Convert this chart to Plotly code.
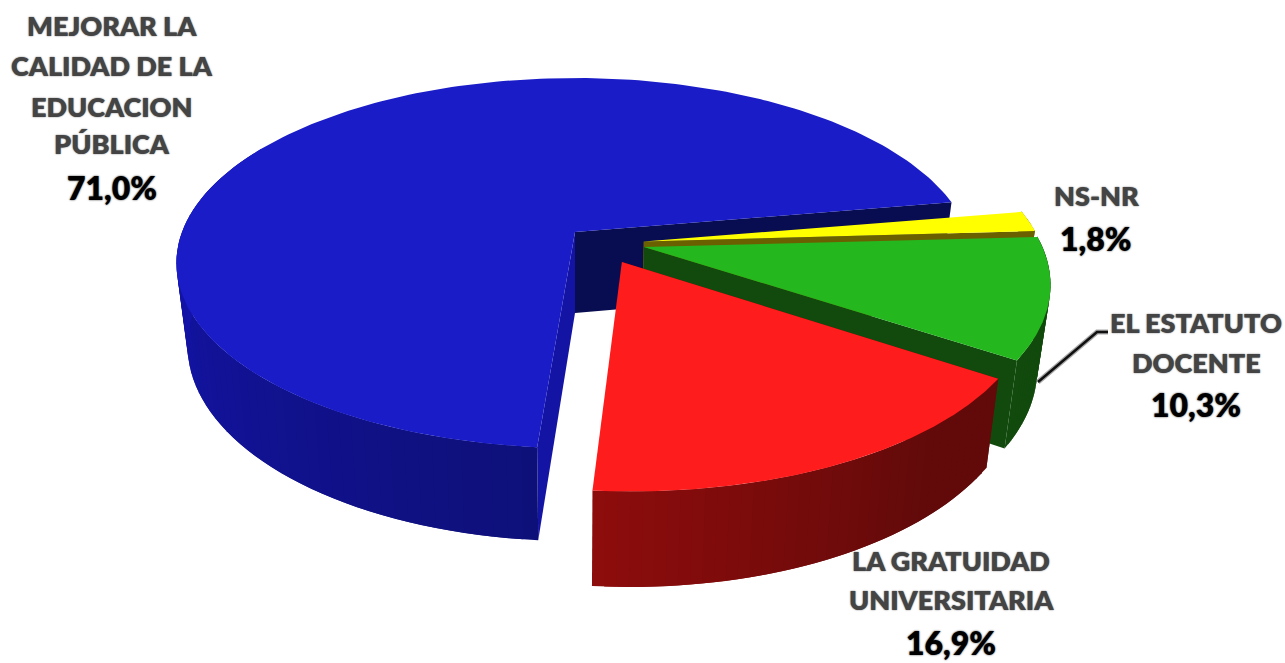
import numpy as np
import plotly.graph_objects as go

# --- data ---
categories = ["MEJORAR LA CALIDAD DE LA EDUCACION PÚBLICA", "NS-NR", "EL ESTATUTO DOCENTE", "LA GRATUIDAD UNIVERSITARIA"]
values = [71.0, 1.8, 10.3, 16.9]
percent_labels = ["71,0%", "1,8%", "10,3%", "16,9%"]
label_lines = [["MEJORAR LA", "CALIDAD DE LA", "EDUCACION", "PÚBLICA"], ["NS-NR"], ["EL ESTATUTO", "DOCENTE"], ["LA GRATUIDAD", "UNIVERSITARIA"]]

# --- style / layout ---
top_colors = ["#1A1CC8", "#FFFF00", "#24B81E", "#FE1C1C"]
start_angle = 184.6
explode_x = [0.0, 0.173, 0.173, 0.116]
explode_y = [0.0, -0.052, -0.082, -0.162]
CX, CY, A, B, K = 575.0, 232.0, 393.0, 179.8, 0.1676
label_x = [112, 1096, 1196, 951]
label_ys = [[25, 65, 106, 143], [195], [322, 362], [560, 599]]
pct_y = [187, 238, 404, 642]
leader_x = [1038, 1097, 1108]
leader_y = [382, 332, 332]
BOTTOM_SCALE = 0.972


def top_pt(i, t):
    r = np.radians(t)
    X = np.sin(r) + explode_x[i]
    Y = np.cos(r) + explode_y[i]
    s = 1 / (1 + K * Y)
    return CX + A * X * s, CY - B * Y * s, s


def center_pt(i):
    Y = explode_y[i]
    s = 1 / (1 + K * Y)
    return CX + A * explode_x[i] * s, CY - B * Y * s, s


def drop(p):
    x, y, s = p
    return CX + (x - CX) * BOTTOM_SCALE, y + 81 + 60 * (s - 1)


fig = go.Figure()


def poly(xs, ys, color):
    fig.add_trace(go.Scatter(x=list(xs), y=list(ys), mode="lines", fill="toself", fillcolor=color,
                             line=dict(color=color, width=0), hoverinfo="skip", showlegend=False))


def mix(c0, c1, f):
    f = min(1, max(0, f))
    return "rgb(%d,%d,%d)" % tuple(round(a + (b - a) * f) for a, b in zip(c0, c1))


def radial_wall(i, t, color):
    c, e = center_pt(i), top_pt(i, t)
    cb, eb = drop(c), drop(e)
    poly([c[0], e[0], eb[0], cb[0]], [c[1], e[1], eb[1], cb[1]], color)


def outer_wall(i, t0, t1, colorfn, n):
    # Each band overlaps the next one by one step, so no seams show.
    ts = np.linspace(t0, t1, n + 2)
    for a, b, c in zip(ts[:-2], ts[1:-1], ts[2:]):
        upper = [top_pt(i, t) for t in (a, b, c)]
        lower = [drop(p) for p in upper]
        xs = [p[0] for p in upper] + [p[0] for p in lower[::-1]]
        ys = [p[1] for p in upper] + [p[1] for p in lower[::-1]]
        poly(xs, ys, colorfn(b % 360))


def top_face(i, t0, t1):
    ts = np.linspace(t0, t1, 200)
    pts = [top_pt(i, t) for t in ts]
    c = center_pt(i)
    poly([c[0]] + [p[0] for p in pts], [c[1]] + [p[1] for p in pts], top_colors[i])


# slice angles (clockwise from the back of the pie), from the values
edges = start_angle + np.cumsum([0] + values) * 3.6

wall_inner = ["#080C50", "#6B6000", "#114A0C", "#6A0A0A"]
wall_start = ["#1414A4", "#6B6000", "#114A0C", "#8A0C0C"]

blue_c = lambda t: mix((14, 16, 120), (20, 20, 172), (t - 184) / 90)
red_c = lambda t: mix((142, 12, 12), (98, 10, 10), (184 - t) / 45)
green_c = lambda t: "#114A0C"
yellow_c = lambda t: "#6B6000"

# Painter order: blue, yellow, green, red
radial_wall(0, edges[1], wall_inner[0])
radial_wall(0, edges[0], wall_start[0])
outer_wall(0, edges[0], 300, blue_c, 60)
top_face(0, edges[0], edges[1])

radial_wall(1, edges[2], wall_inner[1])
outer_wall(1, edges[1], edges[2], yellow_c, 2)
top_face(1, edges[1], edges[2])

radial_wall(2, edges[3], wall_inner[2])
outer_wall(2, edges[2], edges[3], green_c, 30)
top_face(2, edges[2], edges[3])

radial_wall(3, edges[3], wall_inner[3])
outer_wall(3, edges[4], edges[3], red_c, 40)
top_face(3, edges[3], edges[4])

# leader line
fig.add_trace(go.Scatter(x=leader_x, y=leader_y, mode="lines", line=dict(color="#A8A8A8", width=5), hoverinfo="skip", showlegend=False))
fig.add_trace(go.Scatter(x=leader_x, y=leader_y, mode="lines", line=dict(color="#101010", width=2.5), hoverinfo="skip", showlegend=False))

# labels
LABEL_FONT = dict(family="Lato", size=27, color="#444444", weight=800, shadow="0 0 1.5px rgba(40,40,40,0.8)")
PCT_FONT = dict(family="Lato", size=32, color="#000000", weight=800, shadow="0 0 2px rgba(0,0,0,0.8)")
for i in range(4):
    for line, y in zip(label_lines[i], label_ys[i]):
        fig.add_annotation(x=label_x[i], y=y, text=line, showarrow=False, font=LABEL_FONT, xanchor="center", yanchor="middle")
    fig.add_annotation(x=label_x[i], y=pct_y[i], text=percent_labels[i], showarrow=False, font=PCT_FONT, xanchor="center", yanchor="middle")

fig.update_xaxes(range=[0, 1285], visible=False, fixedrange=True)
fig.update_yaxes(range=[663, 0], visible=False, fixedrange=True)
fig.update_layout(width=1285, height=663, margin=dict(l=0, r=0, t=0, b=0), paper_bgcolor="white", plot_bgcolor="white", showlegend=False)

fig.write_html("out.html", config=dict(displayModeBar=False), post_script="document.body.style.margin='0';document.documentElement.style.overflow='hidden';")
